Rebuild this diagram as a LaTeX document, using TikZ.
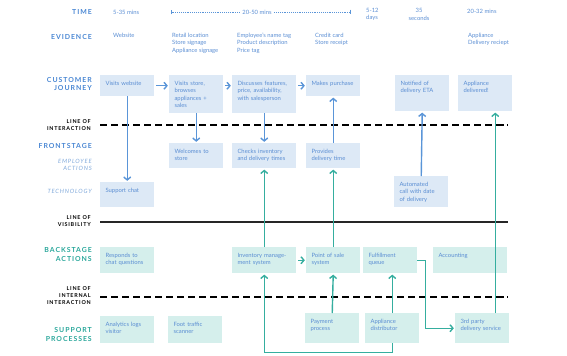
\documentclass[tikz,border=0pt]{standalone}
\usepackage{fontspec}
\setmainfont{Lato}
\newfontfamily\spacedfont[LetterSpace=14]{Lato}
\usetikzlibrary{arrows.meta,calc}

\definecolor{ttlblue}{HTML}{4A87D3}
\definecolor{subblue}{HTML}{7FA8DA}
\definecolor{txtblue}{HTML}{5B8ED3}
\definecolor{bfill}{HTML}{DDE9F6}
\definecolor{tfill}{HTML}{D5EFEC}
\definecolor{barr}{HTML}{5A95D8}
\definecolor{tarr}{HTML}{35AE9F}
\definecolor{ttlteal}{HTML}{2AA79B}

\newcommand{\boxfont}{\fontsize{5}{6.2}\selectfont}
\hyphenpenalty=10000

\begin{document}
\begin{tikzpicture}[x=0.03cm,y=-0.03cm,
 ttl/.style={anchor=east,align=right,inner sep=0pt,text=ttlblue,font={\spacedfont\bfseries\fontsize{5.9}{7}\selectfont}},
 lin/.style={anchor=east,align=right,inner sep=0pt,text=black,font={\spacedfont\bfseries\fontsize{4.6}{6}\selectfont}},
 sub/.style={anchor=east,align=right,inner sep=0pt,text=subblue,font={\spacedfont\itshape\fontsize{5}{6}\selectfont}},
 tm/.style={inner sep=0pt,text=txtblue,font=\boxfont},
 ev/.style={anchor=north west,align=left,inner sep=0pt,text=txtblue,font=\boxfont},
 cbox/.style={fill=bfill,anchor=north west,align=left,inner xsep=0.16cm,inner ysep=0.15cm,
   text height=0.16cm,text width=1.30cm,text=txtblue,font=\boxfont},
 bbox/.style={cbox,fill=tfill},
 wide/.style={text width=1.60cm},
 boxh/.style={text depth=#1cm},
 barrow/.style={draw=barr,line width=1.2pt,shorten >=1pt,-{Straight Barb[length=2.5pt,width=6pt]}},
 tarrow/.style={barrow,draw=tarr},
 dline/.style={line width=1.6pt,dash pattern=on 6pt off 3.4pt},
 sline/.style={line width=1.3pt,draw=black!85}]
\useasboundingbox (0,0) rectangle (567,355);

% row labels
\node[ttl] (time) at (92,12) {TIME};
\node[ttl] (evid) at (92,37) {EVIDENCE};
\node[ttl] (cj) at (92,84) {CUSTOMER\\JOURNEY};
\node[lin] (loi) at (91,125.5) {LINE OF\\INTERACTION};
\node[ttl] (front) at (92,146) {FRONTSTAGE};
\node[sub] (emp) at (92,165) {EMPLOYEE\\ACTIONS};
\node[sub] (tech) at (92,191) {TECHNOLOGY};
\node[lin] (lov) at (91,221.5) {LINE OF\\VISIBILITY};
\node[ttl,text=ttlteal] (back) at (92,254.5) {BACKSTAGE\\ACTIONS};
\node[lin] (loii) at (91,296) {LINE OF\\INTERNAL\\INTERACTION};
\node[ttl,text=ttlteal] (supp) at (92,334.5) {SUPPORT\\PROCESSES};

% lines
\draw[dline] (100,125) -- (508,125);
\draw[sline] (100,222) -- (508,222);
\draw[dline] (100,297) -- (508,297);

% time
\node[tm,anchor=west] (t1) at (113,12) {5-35 mins};
\node[tm] (t2) at (257,12) {20-50 mins};
\coordinate (t2a) at (171,12);
\coordinate (t2b) at (351,12);
\draw[draw=barr,line width=0.6pt,densely dotted,{Bar[width=4pt]}-,shorten >=2pt] (t2a) -- (t2.west);
\draw[draw=barr,line width=0.6pt,densely dotted,-{Bar[width=4pt]},shorten <=2pt] (t2.east) -- (t2b);
\node[tm,anchor=west,align=left] (t3) at (366,14.5) {5-12\\days};
\node[tm,align=center] (t4) at (419,14.5) {35\\seconds};
\node[tm,anchor=west] (t5) at (467,11.5) {20-32 mins};

% evidence
\node[ev] (e1) at (113,33) {Website};
\node[ev] (e2) at (172,33) {Retail location\\Store signage\\Appliance signage};
\node[ev] (e3) at (237,33) {Employee's name tag\\Product description\\Price tag};
\node[ev] (e4) at (315,33) {Credit card\\Store receipt};
\node[ev] (e5) at (468,33) {Appliance\\Delivery reciept};

% customer journey
\node[cbox,boxh=0.17] (web) at (100,75) {Visits website};
\node[cbox,boxh=0.68] (store) at (169,75) {Visits store,\\browses\\appliances +\\sales};
\node[cbox,wide,boxh=0.68] (disc) at (232,75) {Discusses features,\\price, availability,\\with salesperson};
\node[cbox,boxh=0.17] (purch) at (306,75) {Makes purchase};
\node[cbox,boxh=0.62] (eta) at (395,75) {Notified of\\delivery ETA};
\node[cbox,boxh=0.62] (deliv) at (458,75) {Appliance\\delivered!};

% frontstage
\node[cbox,boxh=0.29] (welcome) at (169,143) {Welcomes to\\store};
\node[cbox,wide,boxh=0.29] (checks) at (232,143) {Checks inventory\\and delivery times};
\node[cbox,boxh=0.29] (provide) at (306,143) {Provides\\delivery time};
\node[cbox,boxh=0.29] (chat) at (100,182) {Support chat};
\node[cbox,boxh=0.47] (call) at (394,176) {Automated\\call with date\\of delivery};

% backstage
\node[bbox,boxh=0.32] (respond) at (100,247) {Responds to\\chat questions};
\node[bbox,wide,boxh=0.32] (inv) at (232,247) {Inventory manage-\\ment system};
\node[bbox,boxh=0.32] (pos) at (306,247) {Point of sale\\system};
\node[bbox,boxh=0.32] (fulfil) at (363,247) {Fulfillment\\queue};
\node[bbox,text width=1.90cm,boxh=0.32] (acct) at (433,247) {Accounting};

% support
\node[bbox,boxh=0.35] (analytic) at (100,316) {Analytics logs\\visitor};
\node[bbox,boxh=0.35] (foot) at (168,316) {Foot traffic\\scanner};
\node[bbox,boxh=0.44] (pay) at (305,313) {Payment\\process};
\node[bbox,boxh=0.44] (distrib) at (365,313) {Appliance\\distributor};
\node[bbox,boxh=0.44] (third) at (455,313) {3rd party\\delivery service};

% customer connectors
\draw[barrow,shorten <=1.5pt] (web.east) -- (web.east -| store.west);
\draw[barrow,shorten <=1.5pt] (web.east -| store.east) -- (web.east -| disc.west);
\draw[barrow,shorten <=1.5pt] (web.east -| disc.east) -- (purch.west);
\draw[barrow] (store.south) -- (welcome.north);
\draw[barrow] (disc.south) -- (checks.north);
\draw[barrow] (provide.north) -- (purch.south);
\draw[barrow] (web.south) -- (chat.north);
\draw[barrow] (call.north) -- (eta.south);

% backstage connectors
\draw[tarrow] (inv.north) -- (checks.south);
\draw[tarrow] (pos.north) -- (provide.south);
\draw[tarrow,shorten <=1.5pt] (inv.east) -- (pos.west);
\draw[tarrow] (pay.north) -- (pos.south);
\draw[tarrow] (distrib.north) -- (distrib.north |- fulfil.south);
\draw[tarrow] (fulfil.east) -- ++(8,0) |- (third.west);
\draw[tarrow] ([xshift=0.39cm]third.north) coordinate (d) -- (d |- deliv.south);
\draw[tarrow] (distrib.south) -- ++(0,9) -| (inv.south);
\end{tikzpicture}
\end{document}
